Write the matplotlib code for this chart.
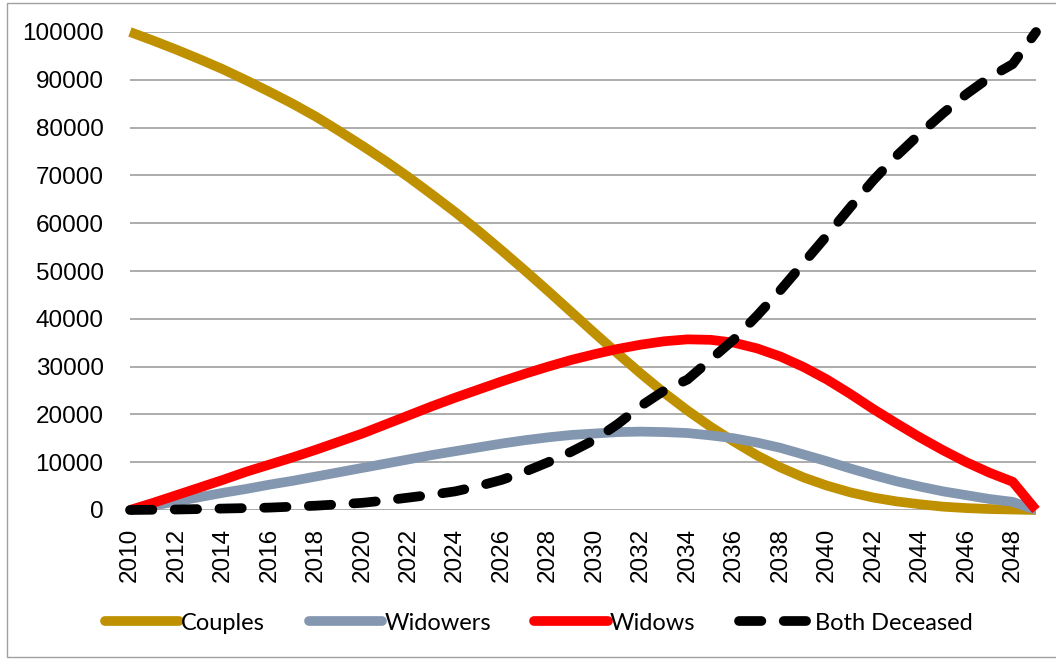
import matplotlib.pyplot as plt
from matplotlib.patches import Rectangle

# --- datos ---
anios = list(range(2010, 2050))

couples = [100000, 98200, 96300, 94300, 92200, 89900, 87500, 85000, 82300, 79300,
           76200, 73000, 69600, 66000, 62300, 58400, 54300, 50100, 45800, 41400,
           37000, 32700, 28500, 24500, 20800, 17400, 14300, 11400, 8900, 6800,
           5100, 3700, 2600, 1800, 1200, 700, 400, 200, 100, 0]

widowers = [0, 900, 1800, 2700, 3600, 4400, 5300, 6100, 7000, 7900,
            8800, 9700, 10600, 11500, 12300, 13100, 13900, 14600, 15200, 15700,
            16000, 16300, 16400, 16300, 16100, 15600, 15000, 14100, 13000, 11600,
            10200, 8700, 7300, 6000, 4900, 3900, 3100, 2300, 1700, 0]

widows = [0, 1500, 3100, 4700, 6300, 8000, 9500, 11000, 12600, 14300,
          16000, 17900, 19800, 21700, 23500, 25200, 26900, 28500, 30000, 31400,
          32600, 33700, 34600, 35300, 35700, 35600, 35000, 33800, 32100, 29900,
          27300, 24300, 21100, 18100, 15200, 12500, 10000, 7800, 5900, 0]

both_deceased = [0, 50, 100, 200, 300, 400, 500, 700, 900, 1200,
                 1500, 2000, 2600, 3200, 3900, 5000, 6300, 8000, 10000, 12200,
                 14700, 18000, 21800, 25000, 27300, 31500, 35700, 40700, 46000, 51700,
                 57400, 63300, 69000, 74100, 78700, 83000, 87000, 90500, 93300, 100000]

etiquetas_x = [str(a) for a in range(2010, 2049, 2)]

# --- figura ---
fig = plt.figure(figsize=(10.56, 6.6), dpi=100)
ax = fig.add_axes([130 / 1056, 1 - 510 / 660, 906 / 1056, 478 / 660])

lw = 7
estilo = dict(lw=lw, solid_capstyle='butt', solid_joinstyle='round', clip_on=False)
ax.plot(anios, couples, color='#BF9000', label='Couples', **estilo)
ax.plot(anios, widowers, color='#8497B0', label='Widowers', **estilo)
ax.plot(anios, widows, color='#FF0000', label='Widows', **estilo)
ax.plot(anios, both_deceased, color='black', lw=lw, dashes=(2.3, 2.3), dash_capstyle='round',
        dash_joinstyle='round', clip_on=False, label='Both Deceased')

ax.set_xlim(2010, 2049)
ax.set_ylim(0, 100000)
ax.set_yticks(range(0, 100001, 10000))
ax.set_xticks(range(2010, 2049, 2))
ax.set_xticklabels(etiquetas_x, rotation=90)

for s in ax.spines.values():
    s.set_visible(False)
ax.grid(axis='y', color='#A6A6A6', lw=1.3)
ax.set_axisbelow(True)
ax.tick_params(length=0, labelsize=17.5)
ax.tick_params(axis='y', pad=19)
ax.tick_params(axis='x', pad=13)
for t in ax.get_xticklabels() + ax.get_yticklabels():
    t.set_fontfamily('Liberation Sans')

leg = fig.legend(loc='center', bbox_to_anchor=(539 / 1056, 1 - 623 / 660), ncol=4, frameon=False,
                 handlelength=3.1, handletextpad=0.1, columnspacing=1.85,
                 prop={'family': 'Lato', 'size': 17})
for linea in leg.get_lines():
    linea.set_solid_capstyle('round')
    linea.set_dash_capstyle('round')

# marco exterior
fig.patches.append(Rectangle((7 / 1056, 3 / 660), 1.2, 1 - 6 / 660, transform=fig.transFigure,
                             fill=False, edgecolor='#A0A0A0', lw=1))

fig.savefig('out.png', dpi=100)
